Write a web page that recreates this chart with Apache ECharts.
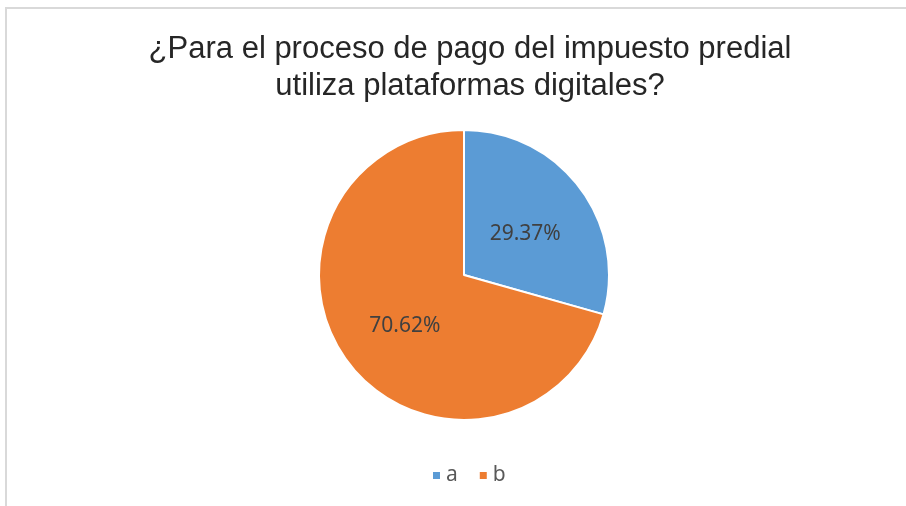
<!DOCTYPE html>
<html>
<head>
<meta charset="utf-8">
<script src="https://cdn.jsdelivr.net/npm/echarts@6/dist/echarts.min.js"></script>
<style>
  html, body { margin: 0; padding: 0; background: #fff; overflow: hidden; }
  #frame { position: absolute; left: 5px; top: 7px; width: 910px; height: 510px;
           border-top: 2px solid #d9d9d9; border-left: 2px solid #d9d9d9; box-sizing: border-box; }
  #chart { position: absolute; left: 0; top: 0; width: 906px; height: 506px; }
</style>
</head>
<body>
<div id="frame"></div>
<div id="chart"></div>
<script>
  var titleText = '¿Para el proceso de pago del impuesto predial\nutiliza plataformas digitales?';
  var categories = ['a', 'b'];
  var values = [29.37, 70.62];
  var colors = ['#5b9bd5', '#ed7d31'];

  var pieData = categories.map(function (name, i) {
    return { name: name, value: values[i], itemStyle: { color: colors[i] } };
  });

  var chart = echarts.init(document.getElementById('chart'), null, { renderer: 'canvas' });
  chart.setOption({
    animation: false,
    title: {
      text: titleText,
      left: 465,
      textAlign: 'center',
      top: 26,
      textStyle: {
        fontFamily: 'Liberation Sans',
        fontWeight: 'normal',
        fontSize: 31,
        lineHeight: 37,
        color: '#262626'
      }
    },
    legend: {
      data: categories,
      top: 460,
      left: 426,
      icon: 'rect',
      itemWidth: 9,
      itemHeight: 9,
      itemGap: 20,
      textStyle: { fontFamily: 'Noto Sans', fontSize: 21, color: '#595959' }
    },
    series: [{
      type: 'pie',
      center: [464, 275],
      radius: 145,
      startAngle: 90,
      clockwise: true,
      data: pieData,
      itemStyle: { borderColor: '#fff', borderWidth: 2 },
      label: {
        position: 'inside',
        formatter: function (p) { return p.value.toFixed(2) + '%'; },
        fontFamily: 'Noto Sans',
        fontSize: 21,
        color: '#404040',
        offset: [1, 5]
      },
      labelLine: { show: false },
      emphasis: { disabled: true }
    }]
  });

  window.addEventListener('resize', function () {
    chart.resize();
  });
</script>
</body>
</html>
